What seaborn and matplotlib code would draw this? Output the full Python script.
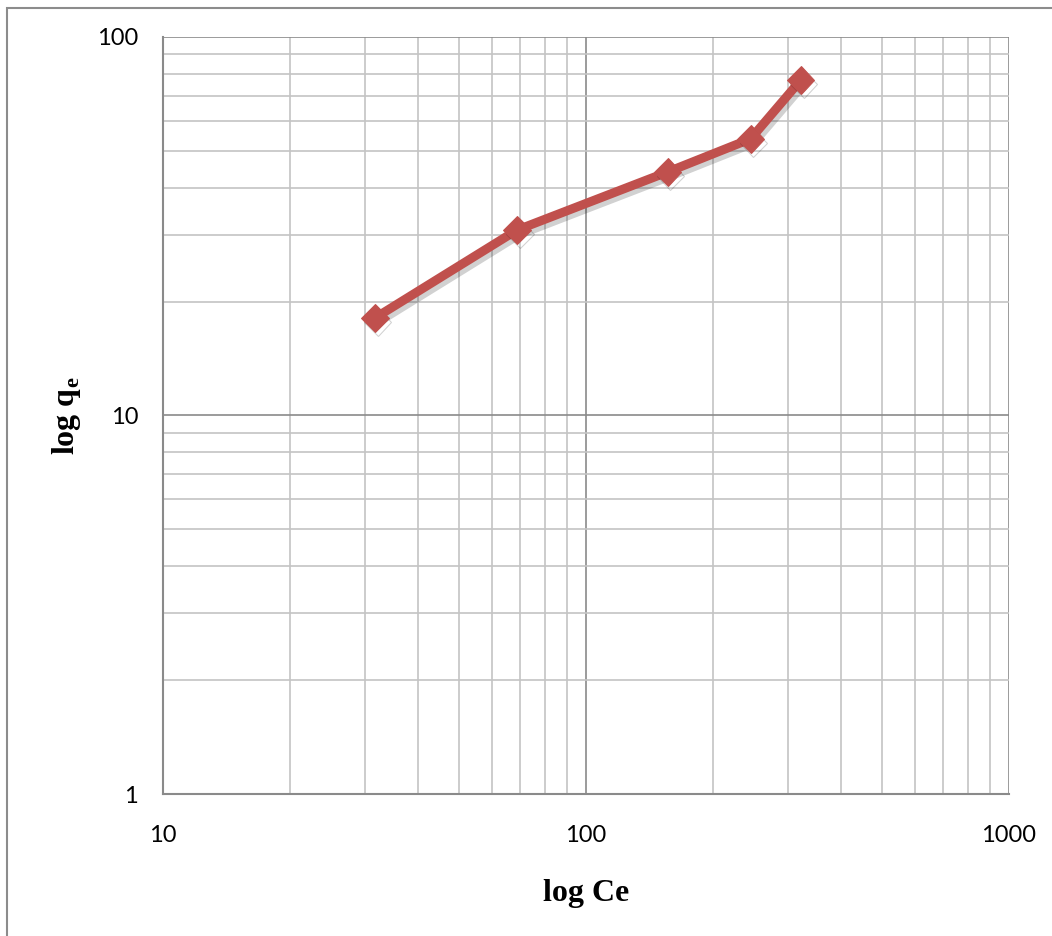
import matplotlib
matplotlib.use("Agg")
import matplotlib.pyplot as plt
import matplotlib.patheffects as pe
from matplotlib.patches import Rectangle
from matplotlib.ticker import LogLocator, FixedLocator, FixedFormatter, NullFormatter
import seaborn as sns
import pandas as pd

# Freundlich isotherm data
ce = [31.7, 68.7, 156, 245, 322]
qe = [18.1, 30.9, 44.0, 53.8, 76.9]
x_ticks = [10, 100, 1000]
x_tick_labels = ["10", "100", "1000"]
y_ticks = [1, 10, 100]
y_tick_labels = ["1", "10", "100"]

sns.set_theme(style="white")
plt.rcParams["font.family"] = ["Lato", "DejaVu Sans"]
plt.rcParams["text.color"] = "black"
plt.rcParams["axes.labelcolor"] = "black"
plt.rcParams["mathtext.fontset"] = "custom"
plt.rcParams["mathtext.rm"] = "Liberation Serif:bold"
plt.rcParams["mathtext.bf"] = "Liberation Serif:bold"

df = pd.DataFrame({"Ce": ce, "qe": qe})

fig = plt.figure(figsize=(10.52, 9.36), dpi=100)
ax = fig.add_axes([0.155, 0.1517, 0.804, 0.8088])

# outer chart border
fig.patches.append(Rectangle((0.0067, -0.01), 1.0, 1 - 0.0085 + 0.01,
                             transform=fig.transFigure, fill=False,
                             edgecolor="#8c8c8c", linewidth=1.5, zorder=0))

ax.set_xscale("log")
ax.set_yscale("log")
ax.set_xlim(10, 1000)
ax.set_ylim(1, 100)

sns.lineplot(data=df, x="Ce", y="qe", ax=ax, color="#C0504D", linewidth=6.5,
             marker="D", markersize=14, markeredgecolor="#C0504D",
             zorder=5, sort=False,
             path_effects=[pe.SimpleLineShadow(offset=(2, -3), alpha=0.18,
                                               shadow_color="#000000"),
                           pe.Normal()])

ax.xaxis.set_major_locator(FixedLocator(x_ticks))
ax.xaxis.set_major_formatter(FixedFormatter(x_tick_labels))
ax.yaxis.set_major_locator(FixedLocator(y_ticks))
ax.yaxis.set_major_formatter(FixedFormatter(y_tick_labels))
ax.xaxis.set_minor_locator(LogLocator(base=10, subs=range(2, 10)))
ax.yaxis.set_minor_locator(LogLocator(base=10, subs=range(2, 10)))
ax.xaxis.set_minor_formatter(NullFormatter())
ax.yaxis.set_minor_formatter(NullFormatter())

ax.grid(True, which="major", color="#8a8a8a", linewidth=1.2)
ax.grid(True, which="minor", color="#c4c4c4", linewidth=1.2)
ax.set_axisbelow(True)

for side in ["top", "right"]:
    ax.spines[side].set_visible(False)
for side in ["left", "bottom"]:
    ax.spines[side].set_color("#8a8a8a")
    ax.spines[side].set_linewidth(1.5)

ax.tick_params(axis="both", which="major", direction="out", length=6,
               width=1.5, color="#8a8a8a", labelsize=17, labelcolor="black")
ax.tick_params(axis="x", which="major", pad=16)
ax.tick_params(axis="y", which="major", pad=12)
ax.tick_params(which="minor", length=0)

ax.set_xlabel("log Ce", fontsize=23, fontweight="bold", color="black",
              family="Liberation Serif", labelpad=24)
ax.set_ylabel(r"log q$_{\mathrm{e}}$", fontsize=23, fontweight="bold",
              color="black", family="Liberation Serif", labelpad=10)

fig.savefig("out.png", dpi=100)
